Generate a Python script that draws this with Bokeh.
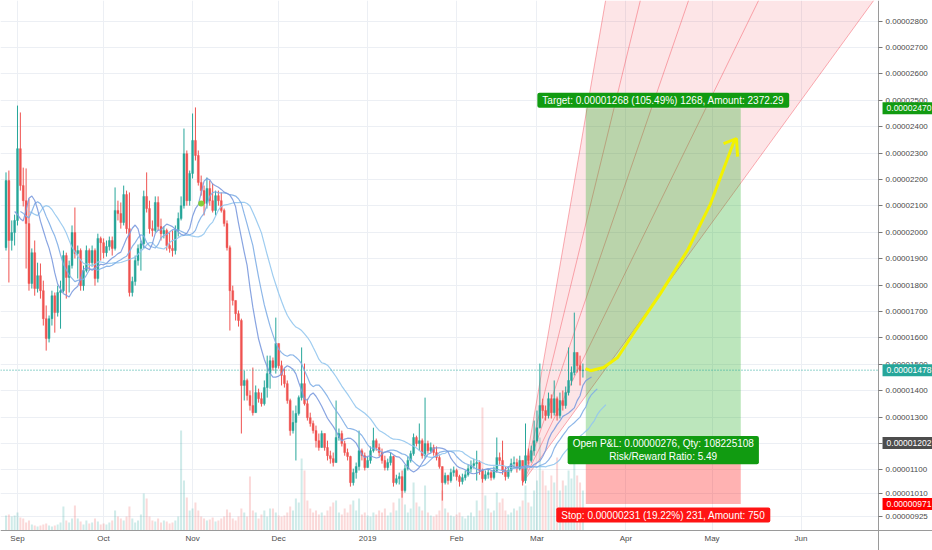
import numpy as np
import pandas as pd
from datetime import datetime, timedelta
from bokeh.plotting import figure
from bokeh.models import Range1d, FixedTicker, PrintfTickFormatter, Label
from bokeh.embed import file_html
from bokeh.resources import INLINE

# ---------------- data (prices in units of 0.00000001) ----------------
start_date = "2018-08-28"
first_open = 1942
close = [2196, 1969, 1999, 2045, 2317, 2177, 2120, 2033, 1806, 1923,
         1787, 1836, 1779, 1673, 1598, 1673, 1760, 1696, 1772, 1779,
         1912, 1829, 1874, 1999, 1920, 1931, 1798, 1855, 1931, 1885,
         1931, 1825, 1977, 1961, 1923, 1946, 1969, 1939, 2083, 2071,
         2037, 2143, 2014, 1772, 1814, 1893, 1939, 1957, 2136, 2090,
         2014, 2007, 2113, 2022, 1995, 2007, 1950, 1939, 1931, 2007,
         2052, 2101, 2298, 2120, 2223, 2348, 2291, 2189, 2158, 2109,
         2166, 2120, 2083, 2139, 2120, 2083, 2033, 1942, 1779, 1742,
         1692, 1666, 1420, 1439, 1382, 1344, 1317, 1393, 1370, 1351,
         1412, 1465, 1514, 1488, 1579, 1495, 1458, 1427, 1363, 1249,
         1280, 1314, 1374, 1427, 1351, 1298, 1276, 1249, 1211, 1185,
         1238, 1185, 1154, 1143, 1128, 1223, 1238, 1200, 1166, 1151,
         1052, 1090, 1113, 1173, 1154, 1109, 1136, 1173, 1211, 1185,
         1166, 1136, 1109, 1128, 1151, 1052, 1067, 1075, 1022, 1105,
         1136, 1162, 1223, 1200, 1211, 1154, 1200, 1173, 1185, 1166,
         1147, 1113, 1052, 1079, 1060, 1090, 1098, 1075, 1056, 1071,
         1082, 1105, 1117, 1124, 1128, 1098, 1067, 1082, 1090, 1071,
         1098, 1147, 1136, 1098, 1075, 1098, 1124, 1128, 1105, 1136,
         1060, 1154, 1136, 1173, 1211, 1260, 1344, 1325, 1306, 1370,
         1317, 1370, 1306, 1363, 1344, 1393, 1439, 1469, 1545, 1495,
         1476, 1478]
high = [2227, 2234, 2045, 2067, 2480, 2454, 2245, 2242, 2128, 1939,
        1969, 1885, 1882, 1817, 1723, 1685, 1779, 1772, 1798, 1817,
        1931, 1923, 1893, 2026, 2094, 1950, 1939, 1874, 1950, 1939,
        1950, 1939, 1995, 1984, 1977, 1969, 1984, 1984, 2170, 2120,
        2113, 2177, 2158, 2151, 1832, 1912, 1954, 1969, 2158, 2227,
        2120, 2045, 2136, 2136, 2052, 2022, 2014, 1999, 2007, 2026,
        2075, 2136, 2393, 2310, 2234, 2450, 2473, 2310, 2215, 2177,
        2208, 2196, 2185, 2158, 2158, 2151, 2090, 2045, 1950, 1798,
        1742, 1704, 1673, 1476, 1446, 1401, 1488, 1420, 1408, 1393,
        1439, 1533, 1533, 1526, 1677, 1564, 1514, 1484, 1439, 1370,
        1325, 1344, 1382, 1564, 1503, 1370, 1317, 1287, 1268, 1238,
        1249, 1230, 1211, 1173, 1166, 1363, 1257, 1249, 1211, 1181,
        1154, 1105, 1128, 1249, 1181, 1166, 1151, 1189, 1260, 1219,
        1200, 1181, 1154, 1143, 1166, 1154, 1082, 1090, 1098, 1120,
        1151, 1173, 1238, 1230, 1276, 1219, 1374, 1211, 1204, 1196,
        1189, 1158, 1113, 1090, 1082, 1105, 1113, 1105, 1082, 1086,
        1098, 1120, 1136, 1143, 1173, 1136, 1105, 1098, 1105, 1098,
        1113, 1223, 1166, 1211, 1113, 1113, 1143, 1151, 1143, 1154,
        1136, 1276, 1181, 1192, 1287, 1325, 1503, 1370, 1344, 1393,
        1386, 1439, 1378, 1393, 1401, 1416, 1564, 1492, 1696, 1545,
        1533, 1503]
low = [1931, 1810, 1931, 1950, 2026, 2158, 2098, 1863, 1779, 1787,
       1760, 1772, 1749, 1647, 1552, 1583, 1647, 1620, 1681, 1635,
       1772, 1749, 1772, 1863, 1901, 1825, 1779, 1779, 1848, 1855,
       1870, 1798, 1810, 1893, 1901, 1908, 1931, 1912, 1931, 2045,
       2014, 2026, 1995, 1757, 1757, 1798, 1874, 1855, 1939, 2075,
       1995, 1984, 1999, 2007, 1969, 1977, 1931, 1923, 1908, 1916,
       1984, 2045, 2090, 2101, 2101, 2204, 2272, 2177, 2139, 2064,
       2090, 2101, 2075, 2064, 2101, 2075, 2022, 1931, 1628, 1723,
       1666, 1643, 1238, 1363, 1363, 1325, 1306, 1317, 1355, 1340,
       1344, 1374, 1408, 1476, 1465, 1484, 1420, 1412, 1351, 1230,
       1238, 1136, 1306, 1363, 1344, 1287, 1264, 1238, 1185, 1173,
       1192, 1173, 1136, 1124, 1113, 1128, 1211, 1189, 1154, 1136,
       1037, 1041, 1067, 1098, 1136, 1098, 1113, 1124, 1166, 1173,
       1151, 1124, 1098, 1098, 1117, 1037, 1045, 1045, 995, 1014,
       1098, 1128, 1154, 1189, 1173, 1143, 1143, 1162, 1166, 1154,
       1136, 1105, 984, 1045, 1045, 1052, 1075, 1060, 1037, 1045,
       1060, 1075, 1090, 1105, 1060, 1082, 1052, 1060, 1067, 1060,
       1064, 1090, 1120, 1082, 1060, 1067, 1090, 1105, 1090, 1098,
       1041, 1049, 1120, 1128, 1154, 1204, 1257, 1295, 1287, 1295,
       1295, 1306, 1287, 1295, 1325, 1332, 1382, 1420, 1458, 1469,
       1420, 1450]
volume = [15, 16, 14, 15, 18, 13, 12, 8, 10, 6,
          5, 4, 5, 6, 7, 5, 4, 5, 6, 8,
          24, 10, 8, 12, 25, 12, 9, 6, 10, 7,
          8, 12, 9, 6, 7, 6, 8, 10, 20, 14,
          12, 10, 14, 24, 12, 8, 10, 16, 37, 32,
          14, 10, 9, 12, 8, 10, 9, 7, 8, 10,
          14, 100, 50, 33, 20, 22, 28, 20, 14, 12,
          10, 11, 13, 9, 10, 12, 14, 21, 18, 12,
          10, 14, 22, 18, 14, 54, 20, 18, 12, 16,
          20, 14, 22, 22, 18, 15, 14, 15, 18, 24,
          20, 32, 28, 72, 60, 30, 22, 18, 20, 16,
          18, 15, 20, 24, 28, 30, 18, 16, 22, 18,
          26, 30, 20, 32, 16, 18, 15, 14, 18, 16,
          20, 18, 22, 15, 18, 28, 20, 32, 45, 26,
          18, 22, 48, 28, 24, 20, 45, 18, 15, 14,
          16, 20, 40, 22, 18, 15, 14, 16, 18, 14,
          12, 15, 18, 14, 30, 20, 123, 35, 22, 18,
          20, 38, 28, 32, 20, 16, 18, 22, 20, 24,
          30, 45, 28, 24, 40, 50, 93, 60, 45, 40,
          55, 48, 73, 40, 50, 45, 60, 52, 90, 55,
          48, 40]

month_ticks = ["2018-09-01", "2018-10-01", "2018-11-01", "2018-12-01", "2019-01-01",
               "2019-02-01", "2019-03-01", "2019-04-01", "2019-05-01", "2019-06-01"]
month_labels = ["Sep", "Oct", "Nov", "Dec", "2019", "Feb", "Mar", "Apr", "May", "Jun"]
price_ticks = [925, 1010, 1100, 1200, 1300, 1400, 1500, 1600, 1700, 1800, 1900,
               2000, 2100, 2200, 2300, 2400, 2500, 2600, 2700, 2800, 2900]

last_price = 1478
entry_price = 1202
target_price = 2470
stop_price = 971
position_start = "2019-03-18"
position_end = "2019-05-11"
target_text = "Target: 0.00001268 (105.49%) 1268, Amount: 2372.29"
pnl_text = "Open P&L: 0.00000276, Qty: 108225108\nRisk/Reward Ratio: 5.49"
stop_text = "Stop: 0.00000231 (19.22%) 231, Amount: 750"

# Gann-fan style lines (days after 2018-09-01, price)
fan_origin_day = 176.0
fan_origin_price = 1052
fan_top_days = [204.9, 217.0, 233.8, 258.2, 298.3]
fan_top_price = 2878

# hand-drawn yellow arrow (days after 2018-09-01, price)
arrow_days = [197.9, 199.7, 204.2, 209.1, 214.6, 224.0, 233.4, 241.5, 249.5, 250.5]
arrow_prices = [1484, 1476, 1488, 1526, 1617, 1768, 1931, 2109, 2340, 2355]
arrow_head_days = [246.0, 250.5, 250.9]
arrow_head_prices = [2336, 2355, 2287]

marker_day = 64.0
marker_price = 2109

# ---------------- helpers ----------------
base = datetime(2018, 9, 1)
def day_ms(d):
    return (base + timedelta(days=d) - datetime(1970, 1, 1)).total_seconds() * 1000.0

def date_ms(s):
    return (pd.Timestamp(s) - pd.Timestamp("1970-01-01")).total_seconds() * 1000.0

DAY = 86400000.0
dates = pd.date_range(start_date, periods=len(close), freq="D")
o = np.array([first_open] + close[:-1], dtype=float)
c = np.array(close, dtype=float)
h = np.maximum.reduce([np.array(high, dtype=float), o, c])
l = np.minimum.reduce([np.array(low, dtype=float), o, c])
up = c >= o
UP, DN = "#26a69a", "#ef5350"
colors = [UP if u else DN for u in up]

x_start, x_end = day_ms(-5.92), day_ms(318.8)
y_start, y_end = 795, 2878
axis_x = day_ms(300.0)      # where the price scale sits
axis_y = 870                # where the time scale sits

p = figure(width=932, height=550, x_axis_type="datetime", y_axis_location="right",
           x_range=Range1d(x_start, x_end), y_range=Range1d(y_start, y_end),
           output_backend="svg", toolbar_location=None, min_border=0)
p.outline_line_color = None
p.background_fill_color = "white"
p.extra_y_ranges = {"vol": Range1d(-20, 530)}

# white margins behind the scales (hide grid there)
p.quad(left=[axis_x], right=[x_end], bottom=[y_start], top=[y_end],
       fill_color="white", line_color=None)
p.quad(left=[x_start], right=[x_end], bottom=[y_start], top=[axis_y],
       fill_color="white", line_color=None)

# volume
p.vbar(x=dates, top=volume, bottom=0, width=0.7 * DAY, y_range_name="vol",
       fill_color=colors, fill_alpha=0.22, line_color=None)

# fan
fo_x = day_ms(fan_origin_day)
top_x = [day_ms(d) for d in fan_top_days]
p.patch([fo_x, top_x[0], top_x[-1]], [fan_origin_price, fan_top_price, fan_top_price],
        fill_color="#f23645", fill_alpha=0.13, line_color=None)
p.segment(x0=[fo_x] * len(top_x), y0=[fan_origin_price] * len(top_x),
          x1=top_x, y1=[fan_top_price] * len(top_x),
          line_color="#f23645", line_alpha=0.5, line_width=0.8)

# long position boxes
p.quad(left=[date_ms(position_start)], right=[date_ms(position_end)],
       bottom=[entry_price], top=[target_price], fill_color="#22ab22", fill_alpha=0.3, line_color=None)
p.quad(left=[date_ms(position_start)], right=[date_ms(position_end)],
       bottom=[stop_price], top=[entry_price], fill_color="#ff0000", fill_alpha=0.3, line_color=None)

# candles
p.segment(x0=dates, y0=h, x1=dates, y1=l, line_color=colors, line_width=1)
p.vbar(x=dates, top=np.maximum(o, c), bottom=np.minimum(o, c), width=0.68 * DAY,
       fill_color=colors, line_color=colors, line_width=0.4)

# alligator-style smoothed lines of median price
median = pd.Series((h + l) / 2.0)
for n, shift, col in [(13, 8, "#93c6ee"), (8, 5, "#80aee6"), (5, 3, "#7b9ade")]:
    sm = median.ewm(alpha=1.0 / n, adjust=False).mean()
    p.line(dates + pd.Timedelta(days=shift), sm.values, line_color=col, line_width=1.2, line_alpha=0.9)

p.scatter([day_ms(marker_day)], [marker_price], size=6, color="#86cf3c", line_color=None)

# last price dotted line
p.segment(x0=[x_start], y0=[last_price], x1=[axis_x], y1=[last_price],
          line_color="#26a69a", line_dash="1 2", line_width=1)

# yellow arrow
p.line([day_ms(d) for d in arrow_days], arrow_prices, line_color="#f2f200", line_width=3)
p.line([day_ms(d) for d in arrow_head_days], arrow_head_prices, line_color="#f2f200", line_width=3)

# axes
p.yaxis.fixed_location = axis_x
p.yaxis.ticker = FixedTicker(ticks=price_ticks)
p.yaxis.formatter = PrintfTickFormatter(format="0.%08d")
p.yaxis.major_label_text_font = "Liberation Sans"
p.yaxis.major_label_text_font_size = "8px"
p.yaxis.major_label_text_color = "#4a4a4a"
p.yaxis.axis_line_color = "#9a9a9a"
p.yaxis.major_tick_line_color = "#777777"
p.yaxis.major_tick_in = 0
p.yaxis.major_tick_out = 4
p.yaxis.minor_tick_line_color = None
p.yaxis.major_label_standoff = 3

mt = [date_ms(s) for s in month_ticks]
p.xaxis.fixed_location = axis_y
p.xaxis.ticker = FixedTicker(ticks=mt)
p.xaxis.major_label_overrides = {t: lab for t, lab in zip(mt, month_labels)}
p.xaxis.major_label_text_font = "Liberation Sans"
p.xaxis.major_label_text_font_size = "8px"
p.xaxis.major_label_text_color = "#4a4a4a"
p.xaxis.axis_line_color = "#9a9a9a"
p.xaxis.major_tick_line_color = None
p.xaxis.major_tick_in = 0
p.xaxis.major_tick_out = 0
p.xaxis.minor_tick_line_color = None
p.xaxis.major_label_standoff = 3

p.xgrid.grid_line_color = "#eceff4"
p.ygrid.grid_line_color = "#eceff4"

# price tags on the scale
for price, col in [(target_price, "#119b11"), (last_price, "#26a69a"),
                   (entry_price, "#4d4d4d"), (stop_price, "#ff0000")]:
    p.add_layout(Label(x=axis_x, y=price, x_offset=4, text="0.%08d" % price,
                       text_align="left", text_baseline="middle", text_font="Liberation Sans",
                       text_font_size="8.5px", text_color="white",
                       background_fill_color=col, padding=(4, 3)))

mid_x = (date_ms(position_start) + date_ms(position_end)) / 2.0
for txt, yv, off, col in [(target_text, target_price, 8, "#119b11"),
                          (pnl_text, entry_price, -7, "#119b11"),
                          (stop_text, stop_price, -11, "#ff1414")]:
    p.add_layout(Label(x=mid_x, y=yv, y_offset=off, text=txt, text_align="center",
                       text_baseline="middle", text_font="Liberation Sans", text_font_size="10px",
                       text_color="white", background_fill_color=col, padding=(5, 2),
                       border_radius=2))

open("out.html", "w").write(file_html(p, INLINE))
